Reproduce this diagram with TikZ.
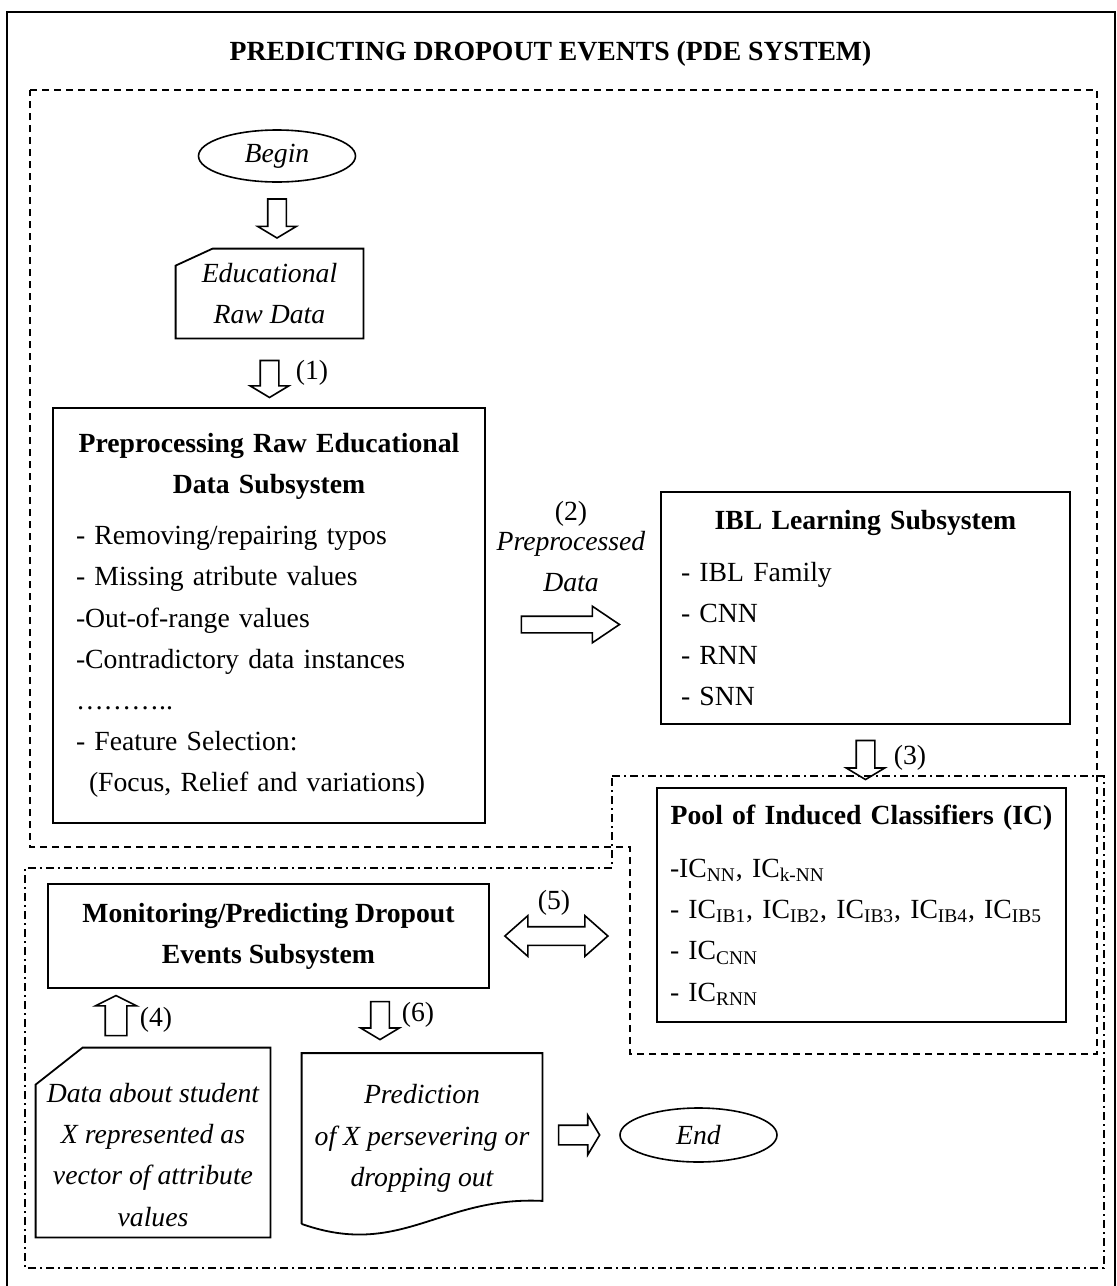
\documentclass[tikz,border=0pt]{standalone}
\usepackage{fontspec}
\setmainfont{Liberation Serif}
\usetikzlibrary{shapes.geometric, shapes.arrows, arrows.meta, positioning, calc}
\setlength{\parindent}{0pt}
\newcommand{\pdefont}{\fontsize{13.85pt}{20.6pt}\selectfont}

\begin{document}
\begin{tikzpicture}[
    x=0.5pt, y=-0.5pt,
    % Node styles
    term/.style={
        ellipse,
        draw,
        line width=0.8pt,
        minimum width=78.5pt,
        minimum height=26pt,
        inner sep=0pt,
        font=\pdefont\itshape
    },
    data_in/.style={
        rectangle,
        inner sep=0pt,
        align=center,
        font=\pdefont\itshape
    },
    sub_box/.style={
        rectangle,
        draw,
        line width=0.9pt,
        inner ysep=0pt,
        align=left,
        font=\pdefont
    },
    head_box/.style={
        rectangle,
        draw,
        line width=0.9pt,
        align=center,
        font=\pdefont\bfseries
    },
    num/.style={
        inner sep=0pt,
        font=\pdefont
    },
    fat_arrow/.style={
        single arrow,
        draw,
        line width=0.8pt,
        inner sep=0pt,
        inner ysep=4.25pt,
        single arrow head extend=5pt,
        single arrow tip angle=118,
        minimum width=0pt,
        minimum height=#1,
        sloped, allow upside down
    },
    fat_both/.style={
        double arrow,
        draw,
        line width=0.8pt,
        inner sep=0pt,
        inner ysep=4.25pt,
        double arrow head extend=5.5pt,
        double arrow tip angle=83,
        minimum width=0pt,
        minimum height=#1,
        sloped, allow upside down
    },
    region_dash/.style={
        line width=0.8pt,
        dash pattern=on 3.5pt off 2.5pt
    },
    region_dashdot/.style={
        line width=0.8pt,
        dash pattern=on 4pt off 2pt on 1pt off 2pt
    }
]
\useasboundingbox (0,0) rectangle (1117,1286);

% frame and regions
\draw[line width=1pt] (7,1290) -- (7,12) -- (1115,12) -- (1115,1290);
\node[font=\pdefont\bfseries] (title) at (550.5,54) {PREDICTING DROPOUT EVENTS (PDE SYSTEM)};

\draw[region_dash] (30,90) -- (1097,90) -- (1097,1054) -- (630,1054) -- (630,847) -- (30,847) -- cycle;
\draw[region_dashdot] (612,776) -- (1104,776) -- (1104,1268) -- (25,1268) -- (25,868) -- (612,868) -- cycle;

% Position nodes
\node[term] (begin) at (277,156) {Begin};

\node[data_in, minimum width=93.5pt, minimum height=44.5pt] (edu) at (269.5,293.5) {Educational\\Raw Data};
\draw[line width=0.9pt] ([yshift=-8.5pt]edu.north west) -- ([xshift=18.5pt]edu.north west) -- (edu.north east) -- (edu.south east) -- (edu.south west) -- cycle;

\node[sub_box, text width=193pt, inner xsep=11.5pt, minimum height=207.5pt] (prep) at (269,615.5) {%
{\centering\bfseries Preprocessing Raw Educational\\ Data Subsystem\par}\vspace{5pt}
- Removing/repairing typos\\
- Missing atribute values\\
-Out-of-range values\\
-Contradictory data instances\\
………..\\
- Feature Selection:\\
\hspace*{6.5pt}(Focus, Relief and variations)};

\node[sub_box, text width=184.5pt, inner xsep=10pt, minimum height=116pt] (ibl) at (865.5,608) {%
{\centering\bfseries IBL Learning Subsystem\par}\vspace{5.5pt}
- IBL Family\\
- CNN\\
- RNN\\
- SNN};

\node[sub_box, text width=191.5pt, inner xsep=6.5pt, minimum height=117pt] (pool) at (861.5,905) {%
{\centering\bfseries Pool of Induced Classifiers (IC)\par}\vspace{6pt}
-IC\textsubscript{NN}, IC\textsubscript{k-NN}\\
- IC\textsubscript{IB1}, IC\textsubscript{IB2}, IC\textsubscript{IB3}, IC\textsubscript{IB4}, IC\textsubscript{IB5}\\
- IC\textsubscript{CNN}\\
- IC\textsubscript{RNN}};

\node[head_box, minimum width=220.5pt, minimum height=52pt] (mon) at (268.5,936) {Monitoring/Predicting Dropout\\Events Subsystem};

\node[data_in, minimum width=117pt, minimum height=94.5pt] (data) at (153,1142.5) {\rule{0pt}{21.9pt}Data about student\\X represented as\\vector of attribute\\values};
\draw[line width=0.9pt] ([yshift=-18.5pt]data.north west) -- ([xshift=23.5pt]data.north west) -- (data.north east) -- (data.south east) -- (data.south west) -- cycle;

\node[data_in, minimum width=120pt, minimum height=85pt] (pred) at (422,1138.5) {Prediction\\of X persevering or\\dropping out};
\draw[line width=0.9pt] (pred.south west) -- (pred.north west) -- (pred.north east) -- ([yshift=11.5pt]pred.south east)
    .. controls ($(pred.south east)+(-102,-28)$) and ($(pred.south east)+(-142,35)$) .. (pred.south west);

\node[term, minimum height=27pt] (endn) at (698.5,1135) {End};

% block arrows
\path (begin.south) -- (begin.south |- edu.north) node[fat_arrow=19.5pt, midway] (a0) {};
\path (edu.south) -- (edu.south |- prep.north) node[fat_arrow=18.5pt, pos=0.55] (a1) {};
\coordinate (a2s) at ([yshift=-4.5pt]prep.east);
\path (a2s) -- (a2s -| ibl.west) node[fat_arrow=49pt, pos=0.45, inner ysep=3.75pt, single arrow tip angle=68] (a2) {};
\path (ibl.south) -- (ibl.south |- pool.north) node[fat_arrow=19.5pt, pos=0.52] (a3) {};
\coordinate (a4s) at ([xshift=-18.5pt]data.north);
\path (a4s) -- (a4s |- mon.south) node[fat_arrow=20pt, midway, inner ysep=5pt, single arrow tip angle=127] (a4) {};
\path (mon.east) -- (mon.east -| pool.west) node[fat_both=51.5pt, pos=0.4] (a5) {};
\coordinate (a6e) at ([xshift=-21pt]pred.north);
\path (a6e |- mon.south) -- (a6e) node[fat_arrow=19pt, pos=0.45] (a6) {};
\path (pred.east |- endn.west) -- (endn.west) node[fat_arrow=20.5pt, pos=0.44, inner ysep=4.5pt] (a7) {};

% arrow labels
\node[num] (l1) at (312,373) {(1)};
\node[num, align=center, anchor=south] (l2) at (571,592) {(2)\\[-5.6pt]\textit{Preprocessed}\\\textit{Data}};
\node[num] (l3) at (910,758) {(3)};
\node[num] (l4) at (156,1020) {(4)};
\node[num] (l5) at (554,903) {(5)};
\node[num] (l6) at (418,1015) {(6)};

\end{tikzpicture}
\end{document}
